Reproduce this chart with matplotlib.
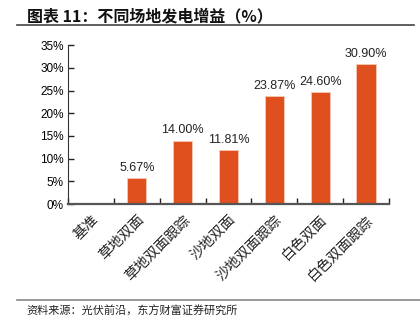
import matplotlib
matplotlib.use("Agg")
import matplotlib.pyplot as plt
from matplotlib.lines import Line2D

plt.rcParams['font.family'] = ['Noto Sans CJK SC', 'DejaVu Sans']

# 不同场地发电增益 (%)
categories = ['基准', '草地双面', '草地双面跟踪', '沙地双面', '沙地双面跟踪', '白色双面', '白色双面跟踪']
gains = [0.0, 5.67, 14.00, 11.81, 23.87, 24.60, 30.90]
yticks = [0, 5, 10, 15, 20, 25, 30, 35]

bar_color = '#E0501F'

fig = plt.figure(figsize=(4.2, 3.22), dpi=100)
ax = fig.add_axes([0.162, 0.366, 0.764, 0.494])

x = list(range(len(categories)))
bars = ax.bar(x, gains, width=0.42, color=bar_color, edgecolor='#F6C9B5', linewidth=0.6)

# value labels, skip the zero baseline
for xi, v in zip(x, gains):
    if v > 0:
        ax.text(xi, v + 0.9, f'{v:.2f}%', ha='center', va='bottom',
                fontsize=9, family=['Liberation Sans', 'DejaVu Sans'], color='#222222')

ax.set_xlim(-0.5, len(categories) - 0.5)
ax.set_ylim(0, 35)
ax.set_yticks(yticks)
ax.set_yticklabels([f'{t}%' for t in yticks], family=['Liberation Sans', 'DejaVu Sans'], fontsize=8.5)

# category ticks sit on the boundaries, labels at the centres
ax.set_xticks([i - 0.5 for i in range(len(categories) + 1)])
ax.set_xticklabels([])
ax.set_xticks(x, minor=True)
ax.set_xticklabels(categories, minor=True, rotation=45, ha='right', va='top',
                   rotation_mode='anchor', fontsize=10.3, color='#222222')
ax.tick_params(axis='x', which='minor', length=0, pad=6)
ax.tick_params(axis='x', which='major', direction='in', length=4, width=1, color='#222222')
ax.tick_params(axis='y', direction='in', length=4, width=1, color='#222222', pad=3)

for s in ['top', 'right']:
    ax.spines[s].set_visible(False)
ax.spines['left'].set_color('#333333')
ax.spines['bottom'].set_color('#555555')
ax.spines['bottom'].set_linewidth(1.6)

# header and footer
fig.text(0.064, 0.95, '图表 11：不同场地发电增益（%）', fontsize=11.5, fontweight='bold',
         ha='left', va='center', color='#111111')
fig.add_artist(Line2D([0.04, 0.985], [0.922, 0.922], color='#444444', linewidth=1.2))
fig.add_artist(Line2D([0.04, 1.0], [0.068, 0.068], color='#888888', linewidth=1.2))
fig.text(0.064, 0.034, '资料来源：光伏前沿，东方财富证券研究所', fontsize=8,
         ha='left', va='center', color='#222222')

fig.savefig('out.png', dpi=100)
